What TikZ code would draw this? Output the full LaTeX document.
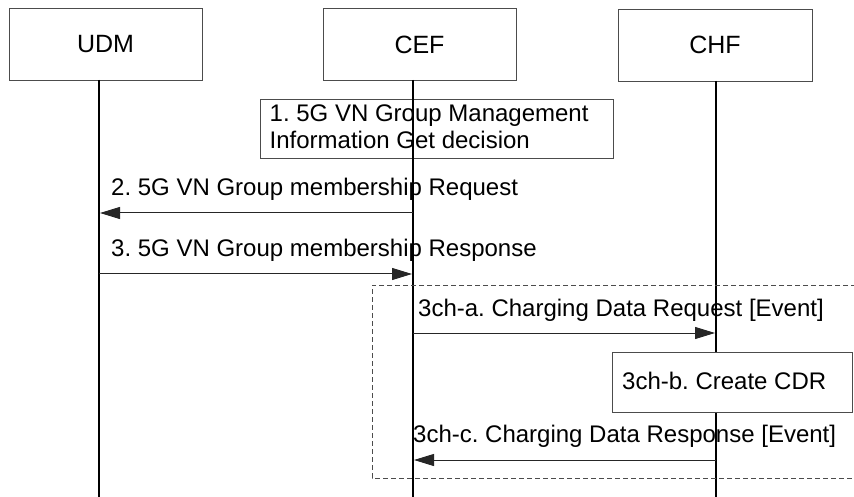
\documentclass[tikz,border=0pt]{standalone}
\usepackage{fontspec}
\setmainfont{Liberation Sans}
\usetikzlibrary{arrows.meta}
\frenchspacing
\begin{document}
\begin{tikzpicture}[x=1bp,y=-1bp,
  hdr/.style={draw=black!70, line width=0.9bp, fill=white, inner sep=0pt,
    minimum height=72bp, font=\fontsize{25bp}{30bp}\selectfont},
  actbox/.style={draw=black!70, line width=0.9bp, fill=white, inner sep=0pt},
  life/.style={line width=1.8bp, black},
  msg/.style={line width=1bp, black!85, -{Triangle[length=20bp,width=12bp]}},
  lbl/.style={anchor=base west, inner sep=0pt, align=left,
    font=\frenchspacing\fontsize{24bp}{27bp}\selectfont},
  grp/.style={draw=black!70, line width=0.8bp, dash pattern=on 5bp off 3bp}]
\useasboundingbox (0,0) rectangle (854,497);
\fill[white] (0,0) rectangle (854,497);
% header boxes
\node[hdr, minimum width=193bp] (udm) at (105.5,44) {UDM};
\node[hdr, minimum width=193bp] (cef) at (419.5,44.5) {CEF};
\node[hdr, minimum width=194bp] (chf) at (715,45) {CHF};
% step 1 box (under lifeline)
\node[actbox, minimum width=353bp, minimum height=59bp] (act1) at (436.5,128.5) {};
\node[lbl] (t1) at (269.5,148.5) {1. 5G VN Group Management\\Information Get decision};
% lifelines
\coordinate (udmT) at (99,80);  \coordinate (udmB) at (99,497);
\coordinate (cefT) at (413,80); \coordinate (cefB) at (413,497);
\coordinate (chfT) at (716,81); \coordinate (chfB) at (716,497);
\draw[life] (udmT) -- (udmB);
\draw[life] (cefT) -- (cefB);
\draw[life] (chfT) -- (chfB);
% group frame
\coordinate (gTR) at (856,285);
\coordinate (gL) at (372,478);
\coordinate (gBR) at (856,478);
\draw[grp] (gTR) -| (gL) -- (gBR);
% CDR box (over lifeline)
\node[actbox, minimum width=240bp, minimum height=60bp] (cdr) at (732,382) {};
\node[lbl] (t3b) at (622,389.5) {3ch-b. Create CDR};
% messages
\draw[msg] (cefT |- 0,213) -- ([xshift=1bp]udmT |- 0,213);
\node[lbl] (t2) at (111,195.5) {2. 5G VN Group membership Request};
\draw[msg] (udmT |- 0,274) -- ([xshift=-1bp]cefT |- 0,274);
\node[lbl] (t3) at (111,256.5) {3. 5G VN Group membership Response};
\draw[msg] (cefT |- 0,333) -- ([xshift=-1bp]chfT |- 0,333);
\node[lbl] (t3a) at (418,316.5) {3ch-a. Charging Data Request [Event]};
\draw[msg] (chfT |- 0,460) -- ([xshift=1bp]cefT |- 0,460);
\node[lbl] (t3c) at (413,442.5) {3ch-c. Charging Data Response [Event]};
\end{tikzpicture}
\end{document}
